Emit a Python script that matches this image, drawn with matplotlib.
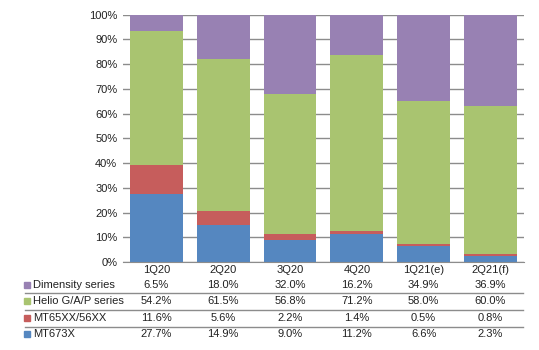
import matplotlib
matplotlib.use("Agg")
import matplotlib.pyplot as plt
from matplotlib.transforms import blended_transform_factory
from matplotlib.lines import Line2D
import numpy as np

plt.rcParams['font.family'] = ['Liberation Sans', 'DejaVu Sans']

quarters = ["1Q20", "2Q20", "3Q20", "4Q20", "1Q21(e)", "2Q21(f)"]
mt673x = [27.7, 14.9, 9.0, 11.2, 6.6, 2.3]
mt65xx = [11.6, 5.6, 2.2, 1.4, 0.5, 0.8]
helio = [54.2, 61.5, 56.8, 71.2, 58.0, 60.0]
dimensity = [6.5, 18.0, 32.0, 16.2, 34.9, 36.9]

series = [
    ("MT673X", mt673x, "#5587C0"),
    ("MT65XX/56XX", mt65xx, "#C65D5C"),
    ("Helio G/A/P series", helio, "#A9C470"),
    ("Dimensity series", dimensity, "#9881B3"),
]

fig = plt.figure(figsize=(5.39, 3.5), dpi=100)
ax = fig.add_axes([0.228, 0.2514, 0.744, 0.7066])

x = np.arange(len(quarters))
bottom = np.zeros(len(quarters))
for name, vals, col in series:
    v = np.array(vals)
    ax.bar(x, v, 0.79, bottom=bottom, color=col, zorder=2)
    bottom += v

ax.set_xlim(-0.5, len(quarters) - 0.5)
ax.set_ylim(0, 100)
ax.set_yticks(range(0, 101, 10))
ax.set_yticklabels([f"{t}%" for t in range(0, 101, 10)], fontsize=8, color="#222222")
ax.set_xticks([])
ax.grid(axis="y", color="#8c8c8c", linewidth=1, zorder=0)
ax.tick_params(axis="y", length=0, pad=4)
for s in ["left", "right", "top"]:
    ax.spines[s].set_visible(False)
ax.spines["bottom"].set_color("#8c8c8c")

# data table below the chart
tr = blended_transform_factory(ax.transData, ax.transAxes)
trf = blended_transform_factory(fig.transFigure, ax.transAxes)
for i, q in enumerate(quarters):
    ax.text(i, -0.032, q, transform=tr, ha="center", va="center", fontsize=8, color="#222222")

rows_y = [-0.093, -0.159, -0.226, -0.291]
for (name, vals, col), ry in zip(series[::-1], rows_y):
    ax.plot([0.051], [ry], marker="s", markersize=4, color=col, transform=trf, clip_on=False)
    ax.text(0.061, ry, name, transform=trf, ha="left", va="center", fontsize=8, color="#222222")
    for i, v in enumerate(vals):
        ax.text(i, ry, f"{v:.1f}%", transform=tr, ha="center", va="center", fontsize=8, color="#222222")

for ly in [-0.125, -0.196, -0.262]:
    line = Line2D([0.046, 0.971], [ly, ly], transform=trf, color="#8c8c8c", linewidth=1)
    line.set_clip_on(False)
    ax.add_line(line)

fig.savefig("out.png", dpi=100)
